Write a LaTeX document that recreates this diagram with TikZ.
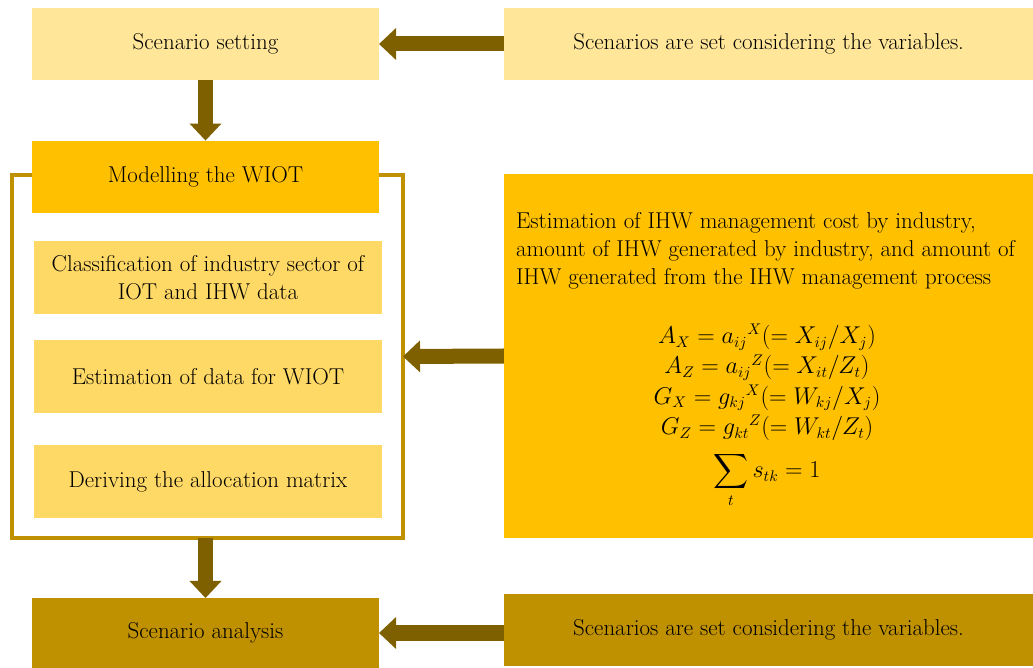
\documentclass[tikz,border=0pt]{standalone}
\usepackage{amsmath}
\usepackage{xcolor}
\usetikzlibrary{arrows.meta}
\definecolor{palegold}{HTML}{FFE699}
\definecolor{taskgold}{HTML}{FFD966}
\definecolor{gold}{HTML}{FFC000}
\definecolor{darkgold}{HTML}{BF9000}
\definecolor{arrowbrown}{HTML}{7F6000}

\begin{document}
\begin{tikzpicture}[x=0.025cm,y=-0.025cm]
\tikzstyle{stage} = [outer sep=0,inner sep=2, minimum width=8.675cm, minimum height=1.8cm, align=center, font=\fontsize{16.3}{19.9}\selectfont]
\tikzstyle{note} = [stage, minimum width=13.225cm]
\tikzstyle{task} = [stage, fill=taskgold, minimum width=8.7cm, minimum height=1.825cm]
\tikzstyle{barrow} = [line width=0.375cm, draw=arrowbrown, -{Triangle[width=0.8cm,length=0.425cm,line width=0pt,fill=arrowbrown]}]

\useasboundingbox (0,0) rectangle (1033,668);

% the modelling frame goes first, the boxes sit on it
\node(frame)[draw=darkgold, line width=0.095cm, outer sep=0, minimum width=9.775cm, minimum height=9.075cm] at (207.5,356.5) {};

\node(setting)[stage, fill=palegold] at (205.5,44) {Scenario setting};
\node(topnote)[note, fill=palegold, right of=setting, node distance=14.075cm]{Scenarios are set considering the variables.};
\node(wiot)[stage, fill=gold, below of=setting, node distance=3.3125cm]{Modelling the WIOT};

\node(classif)[task] at (208,277.5) {Classification of industry sector of\\IOT and IHW data};
\node(estdata)[task, below of=classif, node distance=2.475cm]{Estimation of data for WIOT};
\node(deriv)[task, below of=estdata, node distance=2.625cm]{Deriving the allocation matrix};

\node(wbox)[note, fill=gold, minimum height=9.1cm] at (768.5,356) {};
\node(estim)[anchor=west, align=left, inner sep=2, font=\fontsize{16.3}{19.9}\selectfont] at (513,251) {Estimation of IHW management cost by industry,\\amount of IHW generated by industry, and amount of\\IHW generated from the IHW management process};
\node(eqs)[align=center, font=\fontsize{16}{21.6}\selectfont] at (767,416) {$A_X = {a_{ij}}^X(= X_{ij}/X_j)$\\$A_Z = {a_{ij}}^Z(= X_{it}/Z_t)$\\$G_X = {g_{kj}}^X(= W_{kj}/X_j)$\\$G_Z = {g_{kt}}^Z(= W_{kt}/Z_t)$\\[7pt]$\displaystyle\sum_t s_{tk} = 1$};

\node(analysis)[stage, fill=darkgold, minimum height=1.75cm] at (205.5,633) {Scenario analysis};
\node(botnote)[note, fill=darkgold] at (768.5,630) {Scenarios are set considering the variables.};

\draw [barrow] (topnote) -- (setting);
\draw [barrow] (setting) -- (wiot);
\draw [barrow] (wbox.west) -- (frame.east);
\draw [barrow] (frame.south -| analysis) -- (analysis);
\draw [barrow] (botnote.west |- analysis) -- (analysis);
\end{tikzpicture}
\end{document}
